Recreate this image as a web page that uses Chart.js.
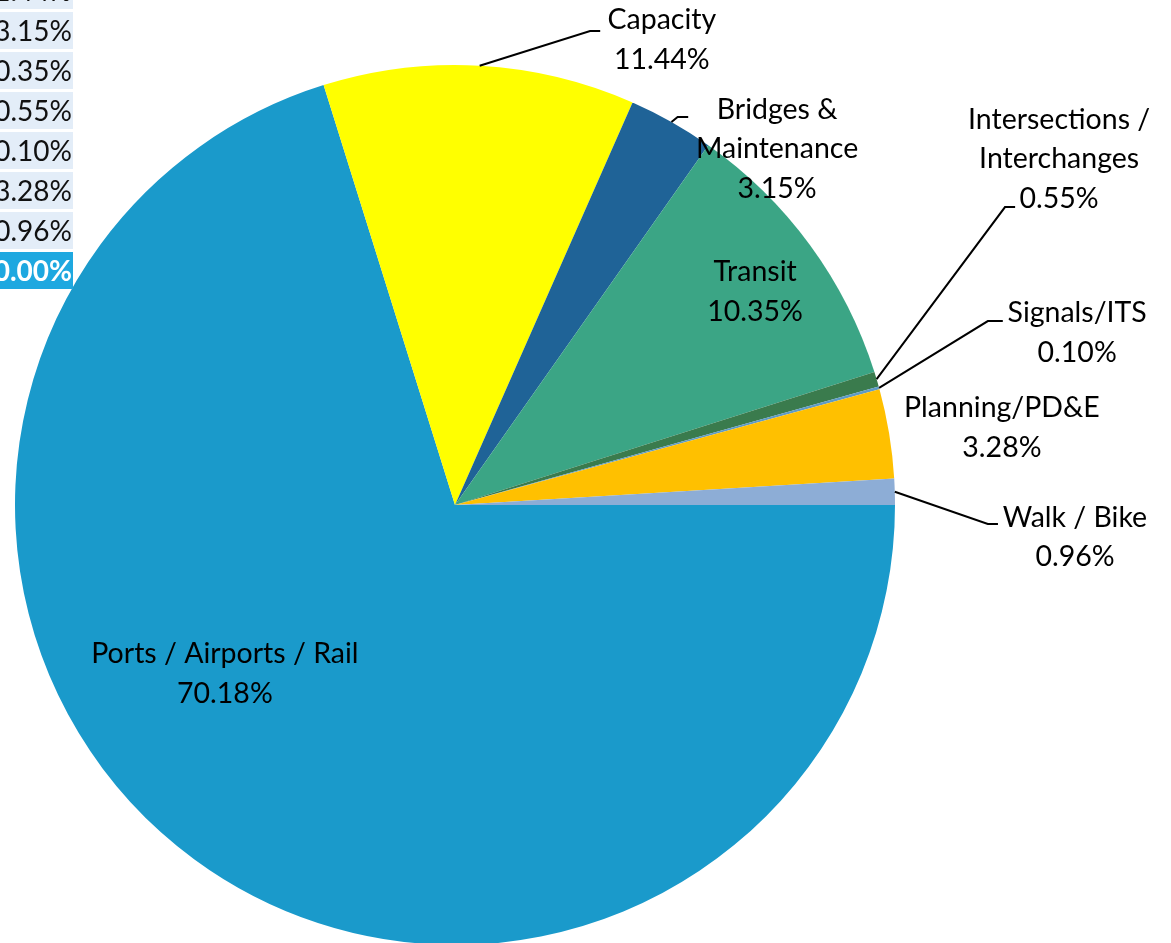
<!DOCTYPE html>
<html>
<head>
<meta charset="utf-8">
<script src="https://cdn.jsdelivr.net/npm/chart.js@4.4.0/dist/chart.umd.min.js"></script>
<style>
    html, body { margin: 0; padding: 0; background: #fff; overflow: hidden; }
    #wrap { position: relative; width: 1171px; height: 943px; overflow: hidden; }
    #pie { position: absolute; left: 0; top: 0; }
    #pctTable { position: absolute; left: -57px; top: -68px; width: 130px; font-family: Lato, sans-serif; font-size: 28px; }
    #pctTable div { height: 37px; line-height: 37px; margin-bottom: 3px; background: #e3edf8; color: #111; text-align: right; padding-right: 1px; }
    #pctTable div.total { background: #1ea8e0; color: #fff; font-weight: bold; }
</style>
</head>
<body>
<div id="wrap">
    <canvas id="pie" width="1171" height="950"></canvas>
    <div id="pctTable"></div>
</div>
<script>
// Shares of funding by category (percent)
const categories = [
    'Ports / Airports / Rail',
    'Capacity',
    ['Bridges &', 'Maintenance'],
    'Transit',
    ['Intersections /', 'Interchanges'],
    'Signals/ITS',
    'Planning/PD&E',
    'Walk / Bike'
];
const values = [70.18, 11.44, 3.15, 10.35, 0.55, 0.10, 3.28, 0.96];
const totalValue = 100.00;
const sliceColors = ['#1a9acb', '#ffff00', '#1f6397', '#3ba585', '#3a7b4d', '#5f9bc6', '#ffc000', '#8dadd6'];

// label placement, in units of the pie radius from its centre
const labelLayout = [
    { pos: [-0.523, 0.384] },
    { pos: [0.470, -1.057], elbow: [0.307, -1.077], end: 0.330 },
    { pos: [0.732, -0.809], elbow: [0.506, -0.882], end: 0.530 },
    { pos: [0.682, -0.484] },
    { pos: [1.373, -0.786], elbow: [1.250, -0.677], end: 1.273 },
    { pos: [1.414, -0.391], elbow: [1.211, -0.418], end: 1.245 },
    { pos: [1.243, -0.175] },
    { pos: [1.409, 0.073], elbow: [1.211, 0.043], end: 1.234 }
];
const LINE_H = 39.5;

// cropped data table in the top-left corner
const tableEl = document.getElementById('pctTable');
values.concat(totalValue).forEach((v, i) => {
    const row = document.createElement('div');
    row.textContent = v.toFixed(2) + '%';
    if (i === values.length) row.className = 'total';
    tableEl.appendChild(row);
});

const labelPlugin = {
    id: 'sliceLabels',
    afterDatasetsDraw(chart) {
        const ctx = chart.ctx;
        const arcs = chart.getDatasetMeta(0).data;
        ctx.save();
        ctx.font = '28.5px Lato, sans-serif';
        ctx.fillStyle = '#000';
        ctx.strokeStyle = '#000';
        ctx.lineWidth = 2;
        ctx.textAlign = 'center';
        ctx.textBaseline = 'middle';
        arcs.forEach((arc, i) => {
            const lay = labelLayout[i];
            const R = arc.outerRadius, cx = arc.x, cy = arc.y;
            const mid = (arc.startAngle + arc.endAngle) / 2;
            if (lay.elbow) {
                ctx.beginPath();
                ctx.moveTo(cx + R * Math.cos(mid), cy + R * Math.sin(mid));
                ctx.lineTo(cx + lay.elbow[0] * R, cy + lay.elbow[1] * R);
                ctx.lineTo(cx + lay.end * R, cy + lay.elbow[1] * R);
                ctx.stroke();
            }
            const lines = [].concat(categories[i], values[i].toFixed(2) + '%');
            const tx = cx + lay.pos[0] * R, ty = cy + lay.pos[1] * R;
            lines.forEach((t, k) => {
                ctx.fillText(t, tx, ty + (k - (lines.length - 1) / 2) * LINE_H);
            });
        });
        ctx.restore();
    }
};

new Chart(document.getElementById('pie').getContext('2d'), {
    type: 'pie',
    data: {
        labels: categories,
        datasets: [{
            data: values,
            backgroundColor: sliceColors,
            borderWidth: 0,
            hoverOffset: 0
        }]
    },
    options: {
        responsive: false,
        animation: false,
        rotation: 90,
        layout: { padding: { left: 15, top: 65, right: 276, bottom: 5 } },
        plugins: {
            legend: { display: false },
            tooltip: { enabled: false }
        }
    },
    plugins: [labelPlugin]
});
</script>
</body>
</html>
